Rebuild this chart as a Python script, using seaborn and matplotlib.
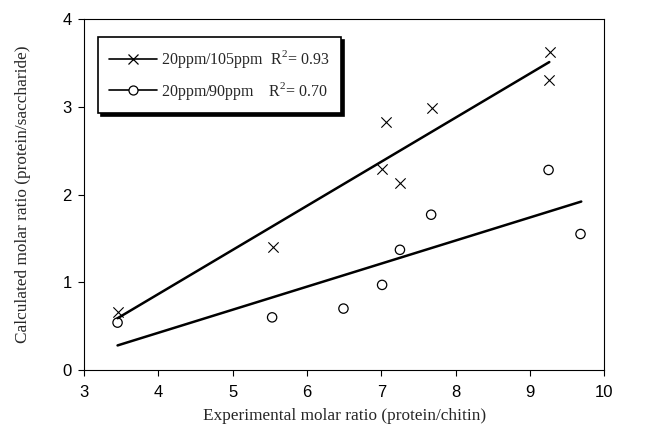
import numpy as np
import pandas as pd
import seaborn as sns
import matplotlib.pyplot as plt

# data
x_105 = [3.45, 5.54, 7.01, 7.06, 7.25, 7.68, 9.25, 9.27]
y_105 = [0.66, 1.40, 2.29, 2.83, 2.13, 2.99, 3.30, 3.63]
x_90 = [3.45, 5.53, 6.49, 7.01, 7.25, 7.67, 9.25, 9.68]
y_90 = [0.54, 0.60, 0.70, 0.97, 1.37, 1.77, 2.28, 1.55]

# fitted lines (end points)
fit_x_105 = [3.45, 9.26]
fit_y_105 = [0.59, 3.51]
fit_x_90 = [3.45, 9.69]
fit_y_90 = [0.28, 1.92]

labels = ['20ppm/105ppm  R$^2$= 0.93', '20ppm/90ppm    R$^2$= 0.70']

sns.set_style("ticks")
plt.rcParams["font.family"] = ["Liberation Sans", "DejaVu Sans"]
plt.rcParams["mathtext.fontset"] = "custom"
plt.rcParams["mathtext.rm"] = "Liberation Serif"

fig = plt.figure(figsize=(6.47, 4.33), dpi=100)
ax = fig.add_axes([0.130, 0.1455, 0.804, 0.8105])

pts_105 = pd.DataFrame({'x': x_105, 'y': y_105})
pts_90 = pd.DataFrame({'x': x_90, 'y': y_90})

sns.scatterplot(data=pts_105, x='x', y='y', marker='x', s=55, color='black',
                linewidth=0.8, ax=ax, legend=False)
sns.scatterplot(data=pts_90, x='x', y='y', marker='o', s=45, facecolor='none',
                edgecolor='black', linewidth=0.9, ax=ax, legend=False)
sns.lineplot(x=fit_x_105, y=fit_y_105, color='black', linewidth=1.8, ax=ax)
sns.lineplot(x=fit_x_90, y=fit_y_90, color='black', linewidth=1.8, ax=ax)

ax.set_xlim(3, 10)
ax.set_ylim(0, 4)
ax.set_xticks(range(3, 11))
ax.set_yticks(range(0, 5))
ax.tick_params(direction='out', length=4.5, width=0.8, labelsize=12, colors='black')
ax.tick_params(axis='x', pad=6)
ax.tick_params(axis='y', pad=4.5)
for s in ax.spines.values():
    s.set_linewidth(0.8)
    s.set_color('black')

ax.set_xlabel('Experimental molar ratio (protein/chitin)', family='Liberation Serif',
              fontsize=12.4)
ax.set_ylabel('Calculated molar ratio (protein/saccharide)', family='Liberation Serif',
              fontsize=12.4)
ax.xaxis.set_label_coords(0.5, -0.108)
ax.yaxis.set_label_coords(-0.102, 0.5)

# legend proxies
h1, = ax.plot([], [], color='black', marker='x', markersize=7, markeredgewidth=0.9, linewidth=1.2)
h2, = ax.plot([], [], color='black', marker='o', markersize=6.5, markerfacecolor='white',
              markeredgewidth=0.9, linewidth=1.2)
leg = ax.legend([h1, h2], labels, loc='upper left', bbox_to_anchor=(0.027, 0.949),
                borderaxespad=0, frameon=True, fancybox=False,
                shadow={'color': 'black', 'alpha': 1}, edgecolor='black', framealpha=1,
                handlelength=3.0, handletextpad=0.25,
                prop={'family': 'Liberation Serif', 'size': 11.5}, borderpad=0.7,
                labelspacing=0.6)
leg.get_frame().set_linewidth(1.2)

fig.savefig('out.png', dpi=100)
